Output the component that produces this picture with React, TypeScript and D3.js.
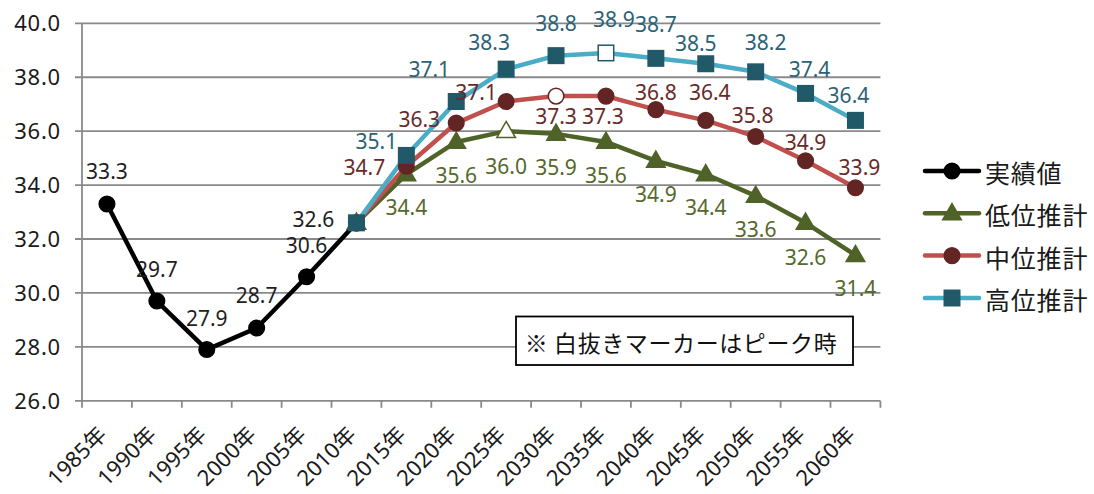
import React from 'react';
import * as d3 from 'd3';

// Categories (x axis)
const YEARS = [
  '1985年', '1990年', '1995年', '2000年', '2005年', '2010年', '2015年', '2020年',
  '2025年', '2030年', '2035年', '2040年', '2045年', '2050年', '2055年', '2060年',
];

// 実績値: 1985年–2010年
const ACTUAL = [33.3, 29.7, 27.9, 28.7, 30.6, 32.6];
// Projections: 2010年–2060年
const LOW = [32.6, 34.4, 35.6, 36.0, 35.9, 35.6, 34.9, 34.4, 33.6, 32.6, 31.4];
const MID = [32.6, 34.7, 36.3, 37.1, 37.3, 37.3, 36.8, 36.4, 35.8, 34.9, 33.9];
const HIGH = [32.6, 35.1, 37.1, 38.3, 38.8, 38.9, 38.7, 38.5, 38.2, 37.4, 36.4];

const Y_TICKS = [26, 28, 30, 32, 34, 36, 38, 40];
const NOTE = '※ 白抜きマーカーはピーク時';

// Label placement per point: [dx of label centre, dy of baseline]; null = no label
const ACTUAL_LABEL_POS: ([number, number] | null)[] = [
  [0, -25], [0, -24], [0, -24], [0, -25], [0, -24], [-43, 4],
];
const LOW_LABEL_POS: ([number, number] | null)[] = [
  null, [0, 41], [0, 41], [0, 43], [0, 41], [0, 41], [0, 41], [0, 41], [0, 41], [0, 42], [0, 41],
];
const MID_LABEL_POS: ([number, number] | null)[] = [
  null, [-42, 9], [-37, 4], [-30, -1], [0, 28], [-3, 28], [0, -10], [4, -20], [-3, -14], [0, -11], [4, -13],
];
const HIGH_LABEL_POS: ([number, number] | null)[] = [
  null, [-30, -6], [-27, -24], [-17, -19], [0, -25], [8, -26], [0, -26], [-10, -13], [10, -22], [4, -16], [-7, -17],
];

type Shape = 'circle' | 'triangle' | 'square';

interface Series {
  name: string;
  values: number[];
  start: number;
  lineColor: string;
  markerColor: string;
  labelColor: string;
  shape: Shape;
  labelPos: ([number, number] | null)[];
  markPeak: boolean;
}

const SERIES: Series[] = [
  { name: '実績値', values: ACTUAL, start: 0, lineColor: '#000000', markerColor: '#000000', labelColor: '#1e1e1e', shape: 'circle', labelPos: ACTUAL_LABEL_POS, markPeak: false },
  { name: '低位推計', values: LOW, start: 5, lineColor: '#4F6228', markerColor: '#4F6228', labelColor: '#55692c', shape: 'triangle', labelPos: LOW_LABEL_POS, markPeak: true },
  { name: '中位推計', values: MID, start: 5, lineColor: '#C0504D', markerColor: '#632523', labelColor: '#6a2a28', shape: 'circle', labelPos: MID_LABEL_POS, markPeak: true },
  { name: '高位推計', values: HIGH, start: 5, lineColor: '#4BACC6', markerColor: '#215968', labelColor: '#2b6276', shape: 'square', labelPos: HIGH_LABEL_POS, markPeak: true },
];

const W = 1094;
const H = 494;
const PLOT = { left: 82, right: 880.4, top: 23.3, bottom: 400.8 };
const FONT = '"Noto Sans", "Noto Sans CJK JP", sans-serif';
const CJK_FONT = '"Noto Sans CJK JP", "Noto Sans", sans-serif';
const GRID = '#8a8a8a';

function Marker({ shape, x, y, fill, stroke }: { shape: Shape; x: number; y: number; fill: string; stroke: string }) {
  if (shape === 'circle') {
    return <circle cx={x} cy={y} r={7.8} fill={fill} stroke={stroke} strokeWidth={1.5} />;
  }
  if (shape === 'square') {
    const s = 15.5;
    return <rect x={x - s / 2} y={y - s / 2} width={s} height={s} fill={fill} stroke={stroke} strokeWidth={1.5} />;
  }
  const tri = d3.symbol().type(d3.symbolTriangle).size(150)();
  return <path d={tri || ''} transform={`translate(${x},${y + 1})`} fill={fill} stroke={stroke} strokeWidth={1.5} />;
}

export default function App() {
  const x = d3.scaleBand<string>().domain(YEARS).range([PLOT.left, PLOT.right]).padding(0);
  const y = d3.scaleLinear().domain([26, 40]).range([PLOT.bottom, PLOT.top]);
  const cx = (i: number) => (x(YEARS[i]) as number) + x.bandwidth() / 2;
  const line = d3.line<[number, number]>().x((d) => d[0]).y((d) => d[1]);

  const pts = (s: Series) => s.values.map((v, j) => [cx(s.start + j), y(v)] as [number, number]);

  const legendY = [171, 213.3, 255.6, 298];

  return (
    <svg width={W} height={H} style={{ position: 'absolute', left: 0, top: 0, background: '#fff' }} fontFamily={FONT}>
      <rect x={0} y={0} width={W} height={H} fill="#ffffff" />

      {/* gridlines and y ticks */}
      {Y_TICKS.map((t) => (
        <g key={t}>
          <line x1={PLOT.left - 7} x2={PLOT.right} y1={y(t)} y2={y(t)} stroke={GRID} strokeWidth={1.8} />
          <text x={61} y={y(t) + 8} textAnchor="end" fontSize={22} fill="#1a1a1a" letterSpacing={0.8}>
            {t.toFixed(1)}
          </text>
        </g>
      ))}

      {/* axes */}
      <line x1={PLOT.left} x2={PLOT.left} y1={PLOT.top} y2={PLOT.bottom} stroke={GRID} strokeWidth={1.8} />
      {YEARS.map((yr) => (
        <line key={yr} x1={x(yr) as number} x2={x(yr) as number} y1={PLOT.bottom} y2={PLOT.bottom + 7} stroke={GRID} strokeWidth={1.8} />
      ))}
      <line x1={PLOT.right} x2={PLOT.right} y1={PLOT.bottom} y2={PLOT.bottom + 7} stroke={GRID} strokeWidth={1.8} />

      {/* x tick labels */}
      {YEARS.map((yr, i) => (
        <text
          key={yr}
          transform={`translate(${cx(i) + 1},${436}) rotate(-45)`}
          textAnchor="end"
          fontSize={22}
          fill="#1a1a1a"
        >
          {yr}
        </text>
      ))}

      {/* series lines */}
      {SERIES.map((s) => (
        <path
          key={s.name}
          d={line(pts(s)) || ''}
          fill="none"
          stroke={s.lineColor}
          strokeWidth={4.5}
          strokeLinejoin="round"
          strokeLinecap="round"
        />
      ))}

      {/* markers; the peak of each projection is drawn hollow */}
      {SERIES.map((s) => {
        const peak = s.markPeak ? d3.maxIndex(s.values) : -1;
        return (
          <g key={s.name}>
            {pts(s).map((p, j) => (
              <Marker
                key={j}
                shape={s.shape}
                x={p[0]}
                y={p[1]}
                fill={j === peak ? '#ffffff' : s.markerColor}
                stroke={s.markerColor}
              />
            ))}
          </g>
        );
      })}

      {/* data labels */}
      {SERIES.map((s) => (
        <g key={s.name}>
          {s.values.map((v, j) => {
            const pos = s.labelPos[j];
            if (!pos) return null;
            return (
              <text
                key={j}
                x={cx(s.start + j) + pos[0]}
                y={y(v) + pos[1]}
                textAnchor="middle"
                fontSize={21}
                fill={s.labelColor}
              >
                {v.toFixed(1)}
              </text>
            );
          })}
        </g>
      ))}

      {/* note box */}
      <rect x={516} y={316.5} width={337} height={48.5} fill="#ffffff" stroke="#000000" strokeWidth={1.8} />
      <text x={681} y={342} textAnchor="middle" dominantBaseline="central" fontSize={23} fontFamily={CJK_FONT} fill="#111" letterSpacing={0.6}>
        {NOTE}
      </text>

      {/* legend */}
      {SERIES.map((s, i) => (
        <g key={s.name}>
          <line x1={925} x2={979} y1={legendY[i]} y2={legendY[i]} stroke={s.lineColor} strokeWidth={4.5} strokeLinecap="round" />
          <Marker shape={s.shape} x={952} y={legendY[i]} fill={s.markerColor} stroke={s.markerColor} />
          <text x={985} y={legendY[i] + 1} dominantBaseline="central" fontSize={25} fontFamily={CJK_FONT} fill="#1a1a1a" letterSpacing={0.8}>
            {s.name}
          </text>
        </g>
      ))}
    </svg>
  );
}
